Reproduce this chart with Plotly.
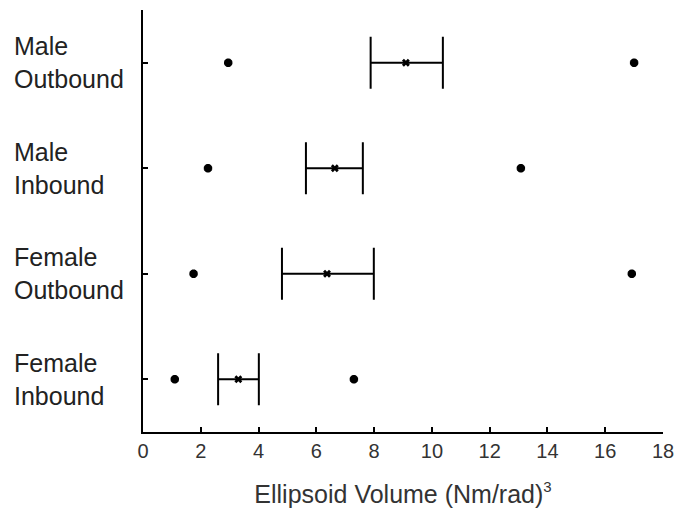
import plotly.graph_objects as go

groups = ["Female<br>Inbound", "Female<br>Outbound", "Male<br>Inbound", "Male<br>Outbound"]
ypos = [1, 2, 3, 4]
mins = [1.1, 1.75, 2.25, 2.95]
means = [3.3, 6.37, 6.64, 9.1]
lo_caps = [2.6, 4.81, 5.64, 7.88]
hi_caps = [4.01, 7.99, 7.61, 10.38]
maxs = [7.3, 16.92, 13.08, 17.0]

err_minus = [m - l for m, l in zip(means, lo_caps)]
err_plus = [h - m for m, h in zip(means, hi_caps)]

fig = go.Figure()
fig.add_trace(go.Scatter(
    x=means, y=ypos, mode="markers",
    marker=dict(symbol="x", size=7, color="black"),
    error_x=dict(type="data", symmetric=False, array=err_plus, arrayminus=err_minus,
                 color="black", thickness=2, width=26),
    showlegend=False))
fig.add_trace(go.Scatter(
    x=mins + maxs, y=ypos + ypos, mode="markers",
    marker=dict(symbol="asterisk-open", size=7, color="black",
                line=dict(color="black", width=3)),
    showlegend=False))

for g, y in zip(groups, ypos):
    fig.add_annotation(text=g, xref="paper", yref="y", x=-131/520, y=y,
                       xanchor="left", yanchor="middle", align="left", showarrow=False,
                       font=dict(family="Liberation Sans, Arial", size=25, color="#222"))

fig.update_layout(
    width=681, height=510,
    margin=dict(l=143, r=18, t=10, b=78, autoexpand=False),
    plot_bgcolor="white", paper_bgcolor="white",
    font=dict(family="Liberation Sans, Arial", color="#333"),
    xaxis=dict(range=[0, 18], tickvals=list(range(0, 19, 2)), ticks="inside",
               ticklen=5, tickwidth=2, tickcolor="black", showline=True,
               linecolor="black", linewidth=2, showgrid=False, zeroline=False,
               automargin=False,
               tickfont=dict(size=20, color="#333"),
               title=dict(text="Ellipsoid Volume (Nm/rad)<sup><span style='font-size:15px'>3</span></sup>",
                          font=dict(size=25, color="#333"), standoff=24)),
    yaxis=dict(range=[0.5, 4.5], tickvals=ypos, showticklabels=False, ticks="inside",
               ticklen=5, tickwidth=2, tickcolor="black", showline=True, automargin=False,
               linecolor="black", linewidth=2, showgrid=False, zeroline=False),
)
fig.write_html("out.html")
